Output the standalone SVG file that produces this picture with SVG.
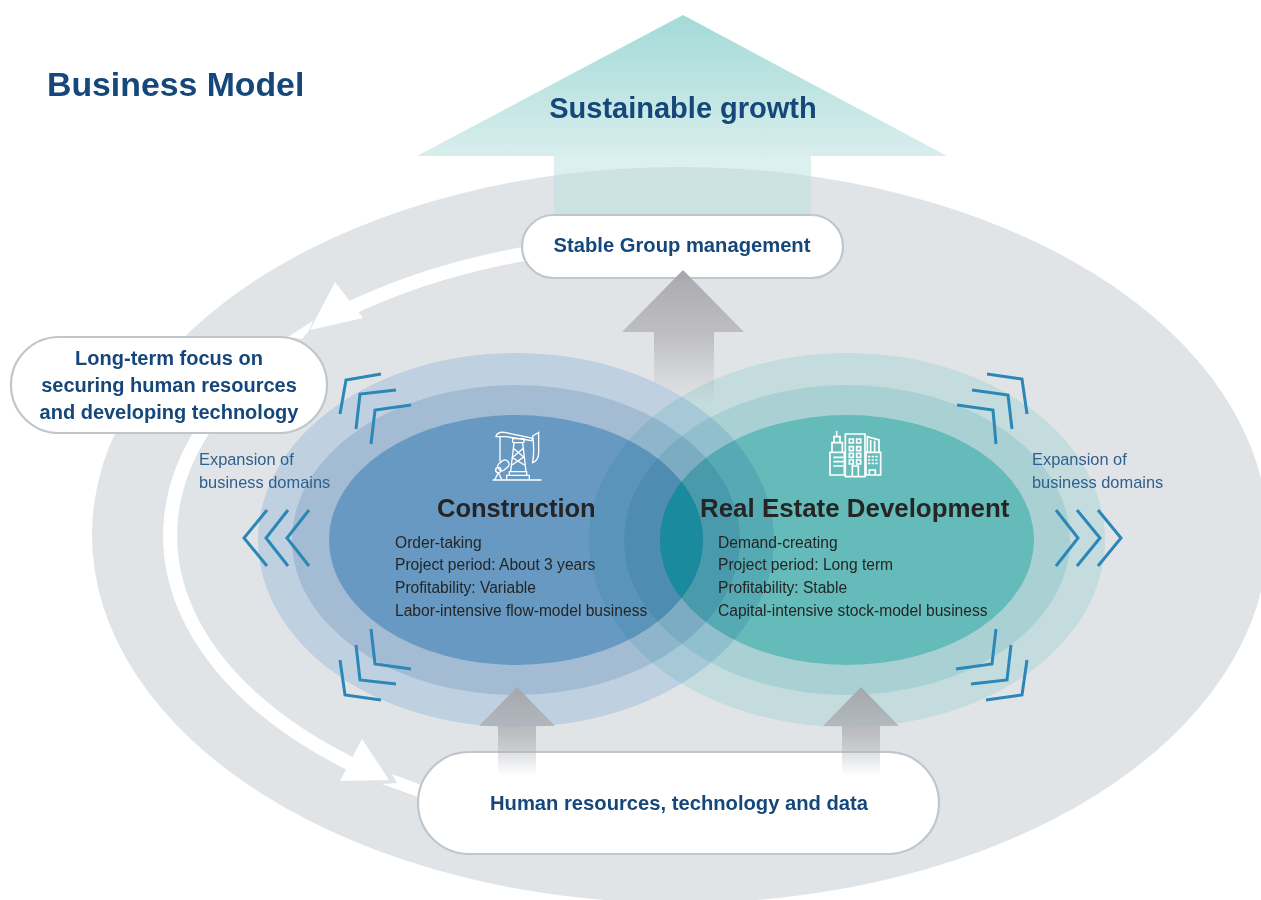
<svg xmlns="http://www.w3.org/2000/svg" width="1261" height="900" viewBox="0 0 1261 900">
<style>
text{font-family:"Liberation Sans",Arial,sans-serif}
.pill{fill:#fff;stroke:#bfc6cc;stroke-width:2.2}
.h{font-weight:700;fill:#15477a;text-anchor:middle}
.t{font-size:15.6px;fill:#252525}
.exp{font-size:16.4px;fill:#2f5f8f}
.name{font-weight:700;fill:#252525}
.chev{fill:none;stroke:#2b87b7;stroke-width:3}
.icon{fill:none;stroke:#fff;stroke-width:4}
.ring{fill:none;stroke:#fff;stroke-width:14}
</style>
<defs>
<linearGradient id="big" gradientUnits="userSpaceOnUse" x1="0" y1="15" x2="0" y2="156"><stop offset="0" stop-color="#a3dad7"/><stop offset="1" stop-color="#d8eeed"/></linearGradient>
<linearGradient id="head1" gradientUnits="userSpaceOnUse" x1="0" y1="270" x2="0" y2="405"><stop offset="0" stop-color="#a9a8ae"/><stop offset=".5" stop-color="#c0c0c4"/><stop offset="1" stop-color="#c8c9cc" stop-opacity="0"/></linearGradient>
<linearGradient id="head2" gradientUnits="userSpaceOnUse" x1="0" y1="687" x2="0" y2="776"><stop offset="0" stop-color="#a6a7ae"/><stop offset=".5" stop-color="#aeb0b4" stop-opacity=".75"/><stop offset="1" stop-color="#aeb0b4" stop-opacity="0"/></linearGradient>
<clipPath id="lens"><ellipse cx="516" cy="540" rx="187" ry="125"/></clipPath>
</defs>
<rect width="1261" height="900" fill="#fff"/>
<ellipse cx="680" cy="535" rx="588" ry="368" fill="#e1e4e7"/>
<g id="growth-arrow">
<rect x="554" y="156" width="257" height="60" fill="#b7dfdf" fill-opacity=".48"/>
<polygon points="683,15 947,156 417,156" fill="url(#big)"/>
<text x="683" y="118" font-size="29" class="h">Sustainable growth</text>
</g>
<g id="connectors">
<path class="ring" d="M524 254A510 299 0 0 0 345 311"/>
<path class="ring" d="M203 430A510 299 0 0 0 355 766"/>
<polygon fill="#fff" points="310,330 335,282 363,318"/>
<polygon fill="#fff" points="288,337 313,321 308,332 302,339"/>
<polygon fill="#fff" points="362,739 340,781 389,780"/>
<polygon fill="#fff" points="392,774 397,783 382,784 418,797 421,785"/>
<polygon id="up-center" fill="url(#head1)" points="683,270 744,332 714,332 714,405 654,405 654,332 622,332"/>
</g>
<g id="construction">
<ellipse cx="516" cy="540" rx="258" ry="187" fill="#bfd0e0"/>
<ellipse cx="516" cy="540" rx="224" ry="155" fill="#a3bcd4"/>
<ellipse cx="516" cy="540" rx="187" ry="125" fill="#6899c2"/>
</g>
<g id="real-estate">
<g style="mix-blend-mode:multiply">
<ellipse cx="847" cy="540" rx="258" ry="187" fill="#def6f5"/>
<ellipse cx="847" cy="540" rx="223" ry="155" fill="#c0eaea"/>
<ellipse cx="847" cy="540" rx="187" ry="125" fill="#72d1cd"/>
</g>
<ellipse cx="847" cy="540" rx="187" ry="125" fill="#1a8a9e" clip-path="url(#lens)"/>
</g>
<g id="chevrons" class="chev">
<path d="M267 510L244 538L267 566M288 510L266 538L288 566M309 510L287 538L309 566"/>
<path d="M1056 510L1078 538L1056 566M1077 510L1100 538L1077 566M1098 510L1121 538L1098 566"/>
<path d="M340 414L346 380L381 374M356 429L360 394L396 390M371 444L375 410L411 405"/>
<path d="M987 374L1022 379L1027 414M972 390L1008 395L1012 429M957 405L993 410L996 444"/>
<path d="M340 660L345 695L381 700M356 645L360 680L396 684M371 629L375 664L411 669"/>
<path d="M1027 660L1022 695L986 700M1011 645L1007 680L971 684M996 629L992 664L956 669"/>
</g>
<g id="stable"><rect class="pill" x="522" y="215" width="321" height="63" rx="31.5"/>
<text x="682" y="252" font-size="20.2" class="h">Stable Group management</text></g>
<polygon fill="#a9a8ae" points="683,270 692,279 674,279"/>
<g id="longterm"><rect class="pill" x="11" y="337" width="316" height="96" rx="48"/>
<text x="169" y="365" font-size="20" class="h">Long-term focus on</text>
<text x="169" y="392" font-size="20" class="h">securing human resources</text>
<text x="169" y="419" font-size="20" class="h">and developing technology</text></g>
<g id="human"><rect class="pill" x="418" y="752" width="521" height="102" rx="51"/>
<text x="679" y="810" font-size="20.2" class="h">Human resources, technology and data</text></g>
<polygon fill="url(#head2)" points="517,687 555,726 536,726 536,776 498,776 498,726 479,726"/>
<polygon fill="url(#head2)" points="861,687 899,726 880,726 880,776 842,776 842,726 823,726"/>
<text x="47" y="96" font-size="33.8" class="h" style="text-anchor:start">Business Model</text>
<g id="construction-text">
<text x="437" y="517" font-size="25.5" class="name">Construction</text>
<text x="395" y="548" class="t">Order-taking</text>
<text x="395" y="570" class="t">Project period: About 3 years</text>
<text x="395" y="593" class="t">Profitability: Variable</text>
<text x="395" y="616" class="t">Labor-intensive flow-model business</text>
</g>
<g id="real-estate-text">
<text x="700" y="517" font-size="25.9" class="name">Real Estate Development</text>
<text x="718" y="548" class="t">Demand-creating</text>
<text x="718" y="570" class="t">Project period: Long term</text>
<text x="718" y="593" class="t">Profitability: Stable</text>
<text x="718" y="616" class="t">Capital-intensive stock-model business</text>
</g>
<g id="expansion-left"><text x="199" y="465" class="exp">Expansion of</text><text x="199" y="488" class="exp">business domains</text></g>
<g id="expansion-right"><text x="1032" y="465" class="exp">Expansion of</text><text x="1032" y="488" class="exp">business domains</text></g>
<g id="pump-icon" class="icon" transform="translate(470 420) scale(.3333)">
<path d="M68 180H215M110 178V166H178V178M118 166V155H170V166M122 155L132 68H158L168 155M128 68V56H162V68M130 110L160 85M130 85L160 110M126 135L163 110M126 112L163 135"/>
<path d="M78 48Q85 33 108 38L188 55L186 62L108 50H78Z"/>
<path d="M188 48L206 37V100Q205 122 188 128Q194 90 188 48Z"/>
<path d="M90 50V125"/>
<rect x="82" y="124" width="36" height="24" rx="11" transform="rotate(-40 100 136)"/>
<circle cx="85" cy="150" r="8"/><path d="M85 158L74 180M85 158L96 180"/>
</g>
<g id="building-icon" class="icon" transform="translate(810 420) scale(.3333)">
<path d="M60 165V97H103V165ZM66 97V68H97V97M72 68V50H90V68M80 50V33" stroke-width="5"/>
<path d="M70 112H100M70 125H100M70 138H100" stroke-width="5"/>
<path d="M106 170V42H165V170ZM127 170V138H145V170" stroke-width="5"/>
<path d="M118 57h12v12h-12zM140 57h12v12h-12zM118 80h12v12h-12zM140 80h12v12h-12zM118 100h12v12h-12zM140 100h12v12h-12zM118 120h12v12h-12zM140 120h12v12h-12z" stroke-width="5"/>
<path d="M168 165V97H212V165ZM172 97V50L207 60V97M182 60V95M194 62V95" stroke-width="5"/>
<path d="M174 110H206M174 120H206M174 130H206" stroke-dasharray="7 4" stroke-width="5"/>
<path d="M178 165V150H196V165" stroke-width="5"/>
</g>
</svg>
